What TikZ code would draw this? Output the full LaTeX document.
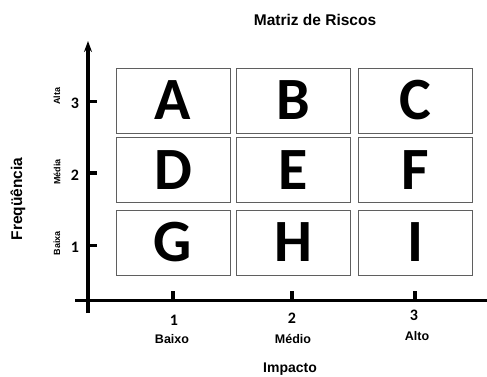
\documentclass[tikz,border=0pt]{standalone}
\usepackage{fontspec}
\setmainfont{Liberation Sans}
\newfontfamily\letterfont{Carlito}
\usetikzlibrary{positioning,calc}
\usetikzlibrary{arrows.meta}
\definecolor{BoxGray}{RGB}{95,95,95}
\tikzset{
  cell/.style={draw=BoxGray,line width=0.9pt,minimum width=114pt,minimum height=65pt,inner sep=0pt,
    font=\letterfont\bfseries\fontsize{60}{60}\selectfont},
  axis/.style={draw=black,line width=3.1pt},
  tickmark/.style={draw=black,line width=3.1pt},
  num/.style={font=\letterfont\bfseries\fontsize{16}{16}\selectfont,inner sep=0pt},
  lbl/.style={font=\bfseries\fontsize{12.5}{12.5}\selectfont,inner sep=0pt},
  ylbl/.style={font=\bfseries\fontsize{9}{9}\selectfont,rotate=90,inner sep=0pt},
}

\begin{document}
\begin{tikzpicture}[x=1pt,y=-1pt]
\useasboundingbox (0,0) rectangle (487,376);
% eixos
\coordinate (ybot) at (88,313);
\coordinate (ytop) at (88,41);
\coordinate (xleft) at (75,300.5);
\coordinate (xright) at (487,300.5);
\draw[axis] (xleft) -- (xright);
\draw[axis,-{Stealth[length=11pt,width=8pt]}] (ybot) -- (ytop);
% marcas no eixo y
\coordinate (y3) at (88,101.5);
\coordinate (y2) at (88,173);
\coordinate (y1) at (88,245.5);
\draw[tickmark] (y3) -- ++(9,0);
\draw[tickmark] (y2) -- ++(9,0);
\draw[tickmark] (y1) -- ++(9,0);
% marcas no eixo x
\coordinate (x1) at (173,300.5);
\coordinate (x2) at (292,300.5);
\coordinate (x3) at (415,300.5);
\draw[tickmark] (x1) -- ++(0,-10);
\draw[tickmark] (x2) -- ++(0,-10);
\draw[tickmark] (x3) -- ++(0,-10);
% matriz
\node[cell] (a) at (173,100.5) {A};
\node[cell] (b) at (293,100.5) {B};
\node[cell] (c) at (415,100.5) {C};
\node[cell] (d) at (173,170) {D};
\node[cell] (e) at (293,170) {E};
\node[cell] (f) at (415,170) {F};
\node[cell] (g) at (173,242.5) {G};
\node[cell] (h) at (293,242.5) {H};
\node[cell] (i) at (415,242.5) {I};
% rotulos
\node[font=\bfseries\fontsize{15.5}{15.5}\selectfont] (title) at (315,20) {Matriz de Riscos};
\node[num] (n3) at (75,103) {3};
\node[num] (n2) at (75,175) {2};
\node[num] (n1) at (75,247) {1};
\node[ylbl] (alta) at (57,96) {Alta};
\node[ylbl] (media) at (57,172) {Média};
\node[ylbl] (baixa) at (57,243) {Baixa};
\node[font=\bfseries\fontsize{15.5}{15.5}\selectfont,rotate=90] (freq) at (18,199) {Freqüência};
\node[num] (m1) at (174,320.5) {1};
\node[num] (m2) at (292,318.5) {2};
\node[num] (m3) at (414,315) {3};
\node[lbl] (baixo) at (172,339) {Baixo};
\node[lbl] (medio) at (293,339) {Médio};
\node[lbl] (alto) at (417,336) {Alto};
\node[font=\bfseries\fontsize{14}{14}\selectfont] (impacto) at (290,369) {Impacto};
\end{tikzpicture}
\end{document}
